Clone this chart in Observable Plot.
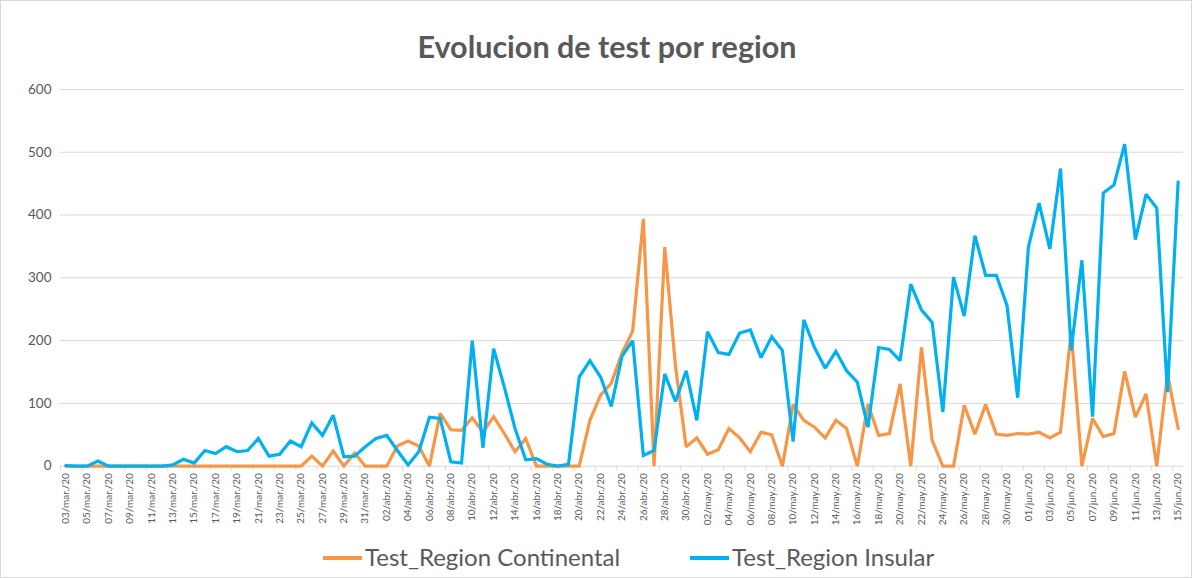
<!DOCTYPE html>
<html><head><meta charset="utf-8">
<script src="https://cdn.jsdelivr.net/npm/d3@7"></script>
<script src="https://cdn.jsdelivr.net/npm/@observablehq/plot@0.6"></script>
<style>
html,body{margin:0;padding:0;background:#fff;}
#chart{position:relative;width:1192px;height:578px;box-sizing:border-box;border:1px solid #d9d9d9;overflow:hidden;font-family:Lato,"Open Sans",sans-serif;color:#595959;}
#title{position:absolute;left:11px;top:26px;width:100%;text-align:center;font-size:30.5px;font-weight:bold;color:#595959;line-height:38px;}
#plot{position:absolute;left:-1px;top:69px;}
.leg{position:absolute;top:541px;font-size:24px;line-height:30px;color:#595959;white-space:nowrap;}
.sw{display:inline-block;width:39px;height:4px;vertical-align:middle;margin-right:3px;position:relative;top:-2px;}
</style>
</head><body>
<div id="chart">
  <div id="title">Evolucion de test por region</div>
  <div id="plot"></div>
  <div class="leg" style="left:322px"><span class="sw" style="background:#F79646"></span>Test_Region Continental</div>
  <div class="leg" style="left:689px"><span class="sw" style="background:#00B0F0"></span>Test_Region Insular</div>
</div>
<script>
const series = ["Test_Region Continental", "Test_Region Insular"];
const colors = ["#F79646", "#00B0F0"];
const meses = ["ene.","feb.","mar.","abr.","may.","jun.","jul.","ago.","sep.","oct.","nov.","dic."];
const fechas = d3.utcDays(new Date(Date.UTC(2020,2,3)), new Date(Date.UTC(2020,5,16)))
  .map(d => String(d.getUTCDate()).padStart(2,"0") + "/" + meses[d.getUTCMonth()] + "/20");

const continental = [
  0,0,0,0,0,0,0,0,0,0,
  0,0,0,0,0,0,0,0,0,0,
  0,0,0,16,0,24,0,21,0,0,
  0,32,40,32,0,84,58,57,77,54,
  79,52,23,44,0,0,0,0,0,73,
  113,132,180,215,394,0,349,160,31,45,
  19,26,60,45,23,54,50,0,98,73,
  62,45,73,60,0,99,49,52,131,0,
  189,41,0,0,97,51,98,51,49,52,
  51,54,45,54,215,0,76,47,52,151,
  78,115,0,147,60
];
const insular = [
  1,0,0,8,0,0,0,0,0,0,
  2,11,5,25,20,31,23,25,44,16,
  19,40,31,69,49,81,15,16,31,44,
  49,25,2,23,78,76,7,5,200,29,
  187,126,60,10,12,3,0,3,142,168,
  142,95,175,200,17,25,147,103,152,73,
  214,181,178,212,217,173,206,184,39,233,
  189,156,183,152,134,62,189,186,168,290,
  249,229,86,301,239,367,304,304,256,109,
  349,419,346,474,184,328,79,435,448,513,
  361,433,411,118,453
];

const rows = [];
[continental, insular].forEach((arr, s) => arr.forEach((v, i) => rows.push({fecha: fechas[i], valor: v, serie: series[s]})));
const tickFechas = fechas.filter((d, i) => i % 2 === 0);

const chart = Plot.plot({
  width: 1192,
  height: 472,
  marginLeft: 60,
  marginRight: 8,
  marginTop: 19,
  marginBottom: 76,
  style: {fontFamily: "Lato, 'Open Sans', sans-serif", color: "#595959", background: "transparent"},
  x: {type: "point", domain: fechas, padding: 0.5},
  y: {domain: [0, 600]},
  color: {domain: series, range: colors},
  marks: [
    Plot.gridY([100,200,300,400,500,600], {stroke: "#d9d9d9", strokeOpacity: 1, strokeWidth: 1}),
    Plot.ruleY([0], {stroke: "#d9d9d9", strokeWidth: 1}),
    Plot.axisY({ticks: [0,100,200,300,400,500,600], tickSize: 0, tickPadding: 9, fontSize: 13.5, fill: "#595959", label: null}),
    Plot.axisX({ticks: tickFechas, tickSize: 5, text: null, dx: -5.36, stroke: "#d9d9d9", label: null}),
    Plot.axisX({ticks: tickFechas, tickSize: 0, tickPadding: 7, tickRotate: -90, fontSize: 10, fill: "#595959", label: null}),
    Plot.line(rows, {x: "fecha", y: "valor", z: "serie", stroke: "serie", strokeWidth: 3.2, strokeLinejoin: "miter", strokeMiterlimit: 2})
  ]
});
document.getElementById("plot").appendChild(chart);
</script>
</body></html>
